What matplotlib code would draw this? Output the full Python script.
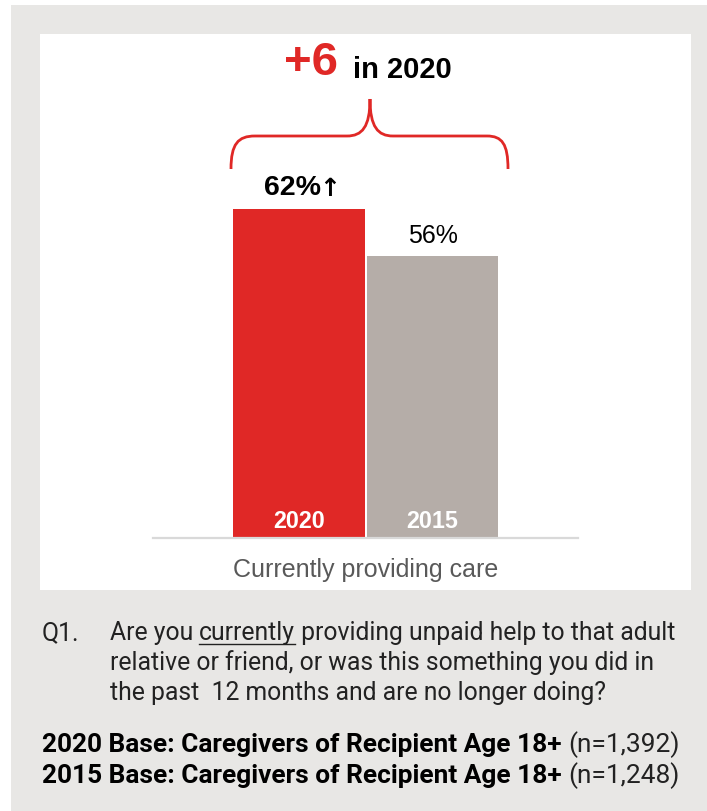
import matplotlib
matplotlib.use("Agg")
import matplotlib.pyplot as plt
from matplotlib.patches import Rectangle, PathPatch
from matplotlib.path import Path
from matplotlib.lines import Line2D
from matplotlib.transforms import offset_copy

# ---- data ----
years = ["2020", "2015"]
values = [62, 56]
value_labels = ["62%", "56%"]
value_arrows = ["\u2191", ""]
category = "Currently providing care"
diff_label = "+6"
diff_suffix = "in 2020"
question_no = "Q1."
question_line1 = ["Are you ", "currently", " providing unpaid help to that adult"]
question_lines = ["relative or friend, or was this something you did in",
                  "the past  12 months and are no longer doing?"]
base_bold = ["2020 Base: Caregivers of Recipient Age 18+",
             "2015 Base: Caregivers of Recipient Age 18+"]
base_n = ["(n=1,392)", "(n=1,248)"]

RED = "#e02826"
GREY = "#b5ada8"
BG = "#e8e7e5"

W, H = 707, 812
fig = plt.figure(figsize=(W / 100, H / 100), dpi=100)
fig.patch.set_facecolor("white")
renderer = fig.canvas.get_renderer()

def fx(px):
    return px / W

def fy(py):
    return 1 - py / H

# background panels
fig.patches.append(Rectangle((fx(11), fy(812)), fx(707) - fx(11), fy(6) - fy(812),
                             transform=fig.transFigure, facecolor=BG, edgecolor="none", zorder=-5))
fig.patches.append(Rectangle((fx(40), fy(591)), fx(691) - fx(40), fy(35) - fy(591),
                             transform=fig.transFigure, facecolor="white", edgecolor="none", zorder=-4))

sans = ["Liberation Sans", "DejaVu Sans"]
narrow = ["Roboto", "DejaVu Sans"]

# axes: baseline at y=539px, x from 153 to 578 px
ax_left, ax_right = 153, 578
ax_bottom, ax_top = 539, 100
ax = fig.add_axes([fx(ax_left), fy(ax_bottom), fx(ax_right) - fx(ax_left), fy(ax_top) - fy(ax_bottom)])
ax.set_facecolor("none")
ax.set_xlim(-1.094, 2.09)
ax.set_ylim(20, 76)
x = [0, 1]
ax.bar(x, values, width=0.985, color=[RED, GREY], zorder=2)
for s in ["top", "right", "left"]:
    ax.spines[s].set_visible(False)
ax.spines["bottom"].set_color("#d9d9d9")
ax.spines["bottom"].set_linewidth(1.6)
ax.set_xticks([])
ax.set_yticks([])

# value labels (arrow drawn as a separate glyph with DejaVu Sans Bold)
t0 = ax.text(x[0], values[0] + 1.9, value_labels[0], ha="center", va="baseline", fontsize=20.5,
             fontweight="bold", family=sans,
             transform=offset_copy(ax.transData, fig=fig, x=-7, y=0, units="dots"))
bb = t0.get_window_extent(renderer=renderer)
ax.text(bb.x1 - 1, bb.y0, value_arrows[0], ha="left", va="bottom", fontsize=18,
        fontweight="bold", family=["DejaVu Sans"], transform=None)
ax.text(x[1], values[1] + 1.8, value_labels[1], ha="center", va="baseline", fontsize=18,
        family=sans)
for xi, yr in zip(x, years):
    ax.text(xi, 22.2, yr, ha="center", va="center", fontsize=16.8, fontweight="bold",
            color="white", family=sans)

fig.text(fx(366), fy(570), category, ha="center", va="center", fontsize=18,
         color="#595959", family=sans)

# brace
verts_px = [(231, 170),
            (231, 145), (238, 137), (255, 137),
            (347, 137),
            (362, 137), (370, 128), (370, 100),
            (370, 128), (378, 137), (393, 137),
            (487, 137),
            (502, 137), (508, 145), (508, 170)]
codes = [Path.MOVETO,
         Path.CURVE4, Path.CURVE4, Path.CURVE4,
         Path.LINETO,
         Path.CURVE4, Path.CURVE4, Path.CURVE4,
         Path.CURVE4, Path.CURVE4, Path.CURVE4,
         Path.LINETO,
         Path.CURVE4, Path.CURVE4, Path.CURVE4]
verts = [(fx(a), fy(b)) for a, b in verts_px]
fig.patches.append(PathPatch(Path(verts, codes), transform=fig.transFigure, facecolor="none",
                             edgecolor=RED, linewidth=2.0, zorder=3))

fig.text(fx(338), fy(75), diff_label, ha="right", va="baseline", fontsize=34, fontweight="bold",
         color=RED, family=sans)
fig.text(fx(353), fy(78), diff_suffix, ha="left", va="baseline", fontsize=21, fontweight="bold",
         color="black", family=sans)

# question text
QFS = 17.8
BFS = 18.9
def run(pieces, x0, ypx, weights, colors, fs, underline=None):
    xcur = x0
    for i, (p, w, c) in enumerate(zip(pieces, weights, colors)):
        t = fig.text(xcur, fy(ypx), p, ha="left", va="center", fontsize=fs, fontweight=w,
                     color=c, family=narrow)
        bb = t.get_window_extent(renderer=renderer)
        if underline is not None and i == underline:
            fig.lines.append(Line2D([bb.x0 / W, bb.x1 / W], [fy(ypx + 12), fy(ypx + 12)],
                                    transform=fig.transFigure, color=c, linewidth=1.0))
        xcur = bb.x1 / W

fig.text(fx(42), fy(633), question_no, ha="left", va="center", fontsize=QFS, color="#222222",
         family=narrow)
run(question_line1, fx(110), 633, ["normal"] * 3, ["#222222"] * 3, QFS, underline=1)
for i, line in enumerate(question_lines):
    fig.text(fx(110), fy(663 + 30 * i), line, ha="left", va="center", fontsize=QFS,
             color="#222222", family=narrow)

for i, (b, n) in enumerate(zip(base_bold, base_n)):
    run([b + " ", n], fx(42), 745 + 31 * i, ["bold", "normal"], ["black", "#222222"], BFS)

fig.savefig("out.png", dpi=100, facecolor=fig.get_facecolor())
